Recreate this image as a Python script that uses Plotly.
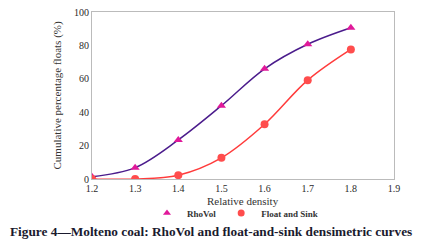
import plotly.graph_objects as go

density = [1.2, 1.3, 1.4, 1.5, 1.6, 1.7, 1.8]
rhovol = [1.3, 6.8, 23.4, 43.9, 66.0, 80.7, 90.6]
float_sink = [0.0, 0.0, 2.3, 12.7, 32.8, 59.2, 77.6]
x_ticks = [1.2, 1.3, 1.4, 1.5, 1.6, 1.7, 1.8, 1.9]
y_ticks = [0, 20, 40, 60, 80, 100]

serif = "Liberation Serif"
c_rho_line, c_rho_mk = "#4B1C8C", "#E0199A"
c_fs_line, c_fs_mk = "#FF3B3B", "#FF4D4D"

fig = go.Figure()
fig.add_trace(go.Scatter(
    x=density, y=rhovol, name="RhoVol", mode="lines+markers", showlegend=False,
    line=dict(color=c_rho_line, width=1.5, shape="spline"),
    marker=dict(symbol="triangle-up", size=8, color=c_rho_mk),
))
fig.add_trace(go.Scatter(
    x=density, y=float_sink, name="Float and Sink", mode="lines+markers", showlegend=False,
    line=dict(color=c_fs_line, width=1.5, shape="spline"),
    marker=dict(symbol="circle", size=8, color=c_fs_mk),
))
# legend entries (marker only, like the reference)
fig.add_trace(go.Scatter(x=[None], y=[None], name="<b>RhoVol</b>", mode="markers",
                         marker=dict(symbol="triangle-up", size=7, color=c_rho_mk)))
fig.add_trace(go.Scatter(x=[None], y=[None], name="<b>Float and Sink</b>", mode="markers",
                         marker=dict(symbol="circle", size=7, color=c_fs_mk)))

# page is offset by 8px body margin; plot area in page coords: x 92..394, y 12..179
fig.update_layout(
    width=429, height=251,
    margin=dict(l=84, r=43, t=4, b=80, autoexpand=False),
    paper_bgcolor="white", plot_bgcolor="white",
    font=dict(family=serif, size=10, color="#333333"),
    showlegend=True,
    legend=dict(orientation="h", x=227/429, xanchor="center", xref="container",
                y=1 - 205/251, yanchor="middle", yref="container",
                font=dict(family=serif, size=9, color="#333333"),
                itemwidth=30, tracegroupgap=0, bgcolor="rgba(0,0,0,0)"),
    xaxis=dict(range=[1.2, 1.9], tickvals=x_ticks, ticktext=[f"{v:.1f}" for v in x_ticks],
               showgrid=False, zeroline=False, showline=True, linecolor="#BBBBBB",
               mirror=True, ticks="", tickfont=dict(size=10, color="#2A2A2A"),
               automargin=False, ticklabeloverflow="allow"),
    yaxis=dict(range=[0, 100], tickvals=y_ticks, showgrid=False, zeroline=False,
               showline=True, linecolor="#BBBBBB", mirror=True, ticks="",
               tickfont=dict(size=10, color="#2A2A2A"), automargin=False,
               ticklabeloverflow="allow"),
    annotations=[
        dict(text="Relative density", xref="paper", yref="paper", x=0.5, xanchor="center",
             y=-22/167, yanchor="middle", showarrow=False,
             font=dict(family=serif, size=11, color="#333333")),
        dict(text="Cumulative percentage floats (%)", xref="paper", yref="paper",
             x=-35/302, xanchor="center", y=0.5, yanchor="middle", textangle=-90,
             showarrow=False, font=dict(family=serif, size=11, color="#333333")),
        dict(text="<b>Figure 4—Molteno coal: RhoVol and float-and-sink densimetric curves</b>",
             xref="paper", yref="paper", x=-84/302, xanchor="left", y=-52/167, yanchor="middle",
             showarrow=False, font=dict(family=serif, size=13.3, color="#1A1A2E")),
    ],
)

fig.write_html("out.html")
